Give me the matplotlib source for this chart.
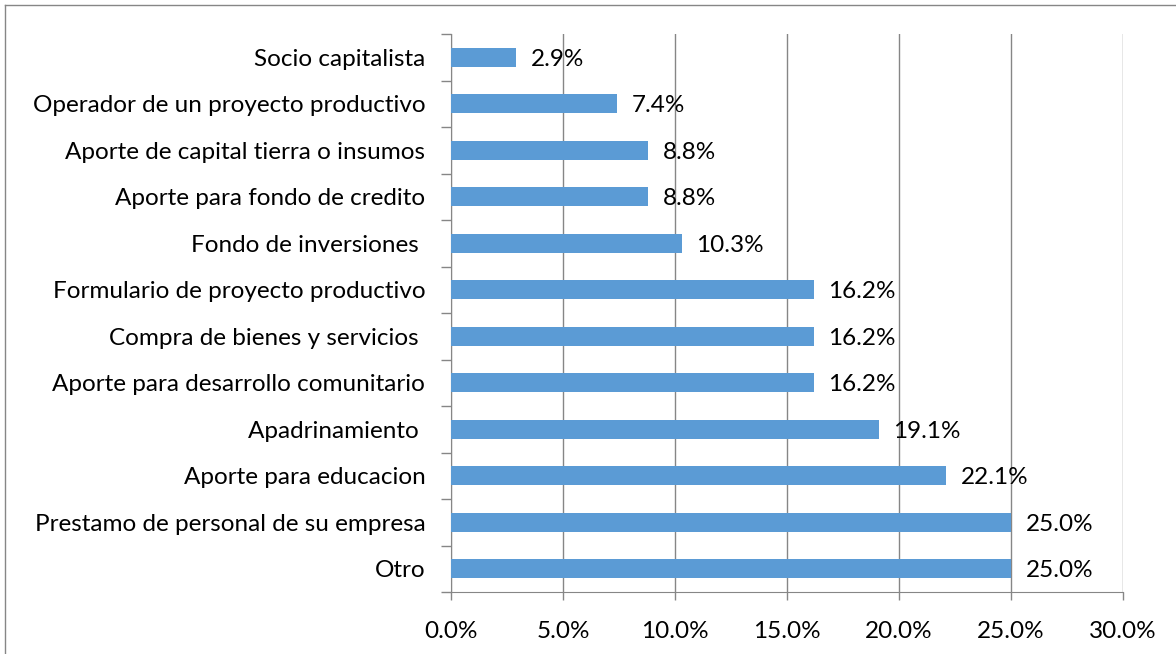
import matplotlib
matplotlib.use('Agg')
import matplotlib.pyplot as plt
from matplotlib.lines import Line2D
from matplotlib.ticker import FixedLocator

categories = [
    'Socio capitalista',
    'Operador de un proyecto productivo',
    'Aporte de capital tierra o insumos',
    'Aporte para fondo de credito',
    'Fondo de inversiones ',
    'Formulario de proyecto productivo',
    'Compra de bienes y servicios ',
    'Aporte para desarrollo comunitario',
    'Apadrinamiento ',
    'Aporte para educacion',
    'Prestamo de personal de su empresa',
    'Otro',
]
values = [2.9, 7.4, 8.8, 8.8, 10.3, 16.2, 16.2, 16.2, 19.1, 22.1, 25.0, 25.0]
xticks = [0, 5, 10, 15, 20, 25, 30]

plt.rcParams['font.family'] = ['Lato', 'DejaVu Sans']
W, H = 1176, 654
FS = 17.5
fig = plt.figure(figsize=(W / 100, H / 100), dpi=100)
ax = fig.add_axes([451 / W, 1 - 592 / H, (1123 - 451) / W, (592 - 34) / H])

n = len(categories)
pos = list(range(n))
ax.barh(pos, values, height=0.4, color='#5B9BD5', zorder=3)
ax.set_ylim(n - 0.5, -0.5)
ax.set_xlim(0, 30)

for p, v in zip(pos, values):
    ax.text(v + 0.65, p + 0.04, f'{v:.1f}%', va='center', ha='left', fontsize=FS, color='#000000', zorder=4)

ax.set_xticks(xticks)
ax.set_xticklabels([f'{t:.1f}%' for t in xticks], fontsize=FS)
ax.xaxis.grid(True, color='#868686', linewidth=1, zorder=0)

ax.set_yticks(pos)
ax.set_yticklabels(categories, fontsize=FS)
ax.yaxis.set_minor_locator(FixedLocator([i - 0.5 for i in range(n + 1)]))
ax.tick_params(axis='y', which='major', length=0, pad=18.5)
ax.tick_params(axis='y', which='minor', length=7, color='#868686', width=1)
ax.tick_params(axis='x', length=6, color='#868686', width=1, pad=15)

for s in ['top', 'right']:
    ax.spines[s].set_visible(False)
for s in ['left', 'bottom']:
    ax.spines[s].set_color('#868686')

# outer chart frame (top and left edges visible)
fig.add_artist(Line2D([5 / W, 1], [1 - 5 / H, 1 - 5 / H], color='#868686', linewidth=1))
fig.add_artist(Line2D([5 / W, 5 / W], [0, 1 - 5 / H], color='#868686', linewidth=1))

fig.savefig('out.png', dpi=100)
